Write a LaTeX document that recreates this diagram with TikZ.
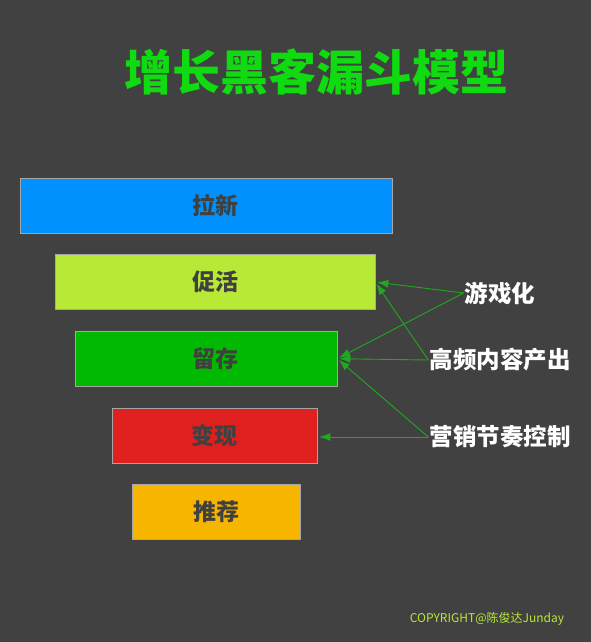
\documentclass[tikz,border=0pt]{standalone}
\usepackage{fontspec}
\newfontfamily\cjk{Noto Sans CJK SC}
\newfontfamily\cjkblack{Noto Sans CJK SC Black}
\usepackage{tikz}
\usetikzlibrary{
  arrows.meta,
  positioning,
}
\definecolor{bgcol}{RGB}{65, 65, 65}
\definecolor{titlegreen}{RGB}{16, 218, 16}
\definecolor{laxincol}{RGB}{0, 145, 255}
\definecolor{cuhuocol}{RGB}{184, 233, 54}
\definecolor{liucuncol}{RGB}{0, 185, 0}
\definecolor{bianxiancol}{RGB}{224, 32, 31}
\definecolor{tuijiancol}{RGB}{248, 181, 0}
\definecolor{stagetext}{RGB}{64, 64, 64}
\definecolor{linkgreen}{RGB}{30, 170, 30}
\tikzstyle{stage} = [
  rectangle,
  draw=gray!70,
  line width=0.6pt,
  minimum height=55,
  text=stagetext,
  font=\cjkblack\fontsize{23}{25}\selectfont,
]
\tikzstyle{tag} = [
  inner sep=1pt,
  text=white,
  font=\cjkblack\fontsize{23.5}{25}\selectfont,
]
\tikzstyle{link} = [
  -{Latex[length=11pt,width=8pt]},
  line width=0.9pt,
  linkgreen,
  shorten >=2pt,
]

\begin{document}
\begin{tikzpicture}[x=1pt,y=-1pt,node distance=21pt and 0pt]
      \fill[bgcol] (0,0) rectangle (591,642);

      \node[text=titlegreen,font=\cjkblack\fontsize{48}{50}\selectfont] (head) at (316,72) {增长黑客漏斗模型};

      \node[stage,fill=laxincol,minimum width=372] (laxin) at (206,205.5) {\hspace*{18pt}拉新};
      \node[stage,fill=cuhuocol,minimum width=320,xshift=9] (cuhuo) [below=of laxin] {促活};
      \node[stage,fill=liucuncol,minimum width=262,xshift=-9] (liucun) [below=of cuhuo] {\hspace*{18pt}留存};
      \node[stage,fill=bianxiancol,minimum width=205,xshift=8.5] (bianxian) [below=of liucun] {变现};
      \node[stage,fill=tuijiancol,minimum width=168,xshift=1.5] (tuijian) [below=of bianxian] {推荐};

      \node[tag] (gamify)    at (500,293) {游戏化};
      \node[tag] (content)   at (500,360) {高频内容产出};
      \node[tag] (marketing) at (500,437) {营销节奏控制};

      \draw[link] (gamify.west) -- (cuhuo.east);
      \draw[link] (gamify.west) -- (liucun.east);
      \draw[link] (content.west) -- (cuhuo.east);
      \draw[link] (content.west) -- (liucun.east);
      \draw[link] (marketing.west) -- (liucun.east);
      \draw[link] (marketing.west) -- (bianxian.east |- marketing.west);

      \node[text=cuhuocol,font=\cjk\fontsize{12}{14}\selectfont] (copyright) at (487,619) {COPYRIGHT@陈俊达Junday};
    \end{tikzpicture}
\end{document}
